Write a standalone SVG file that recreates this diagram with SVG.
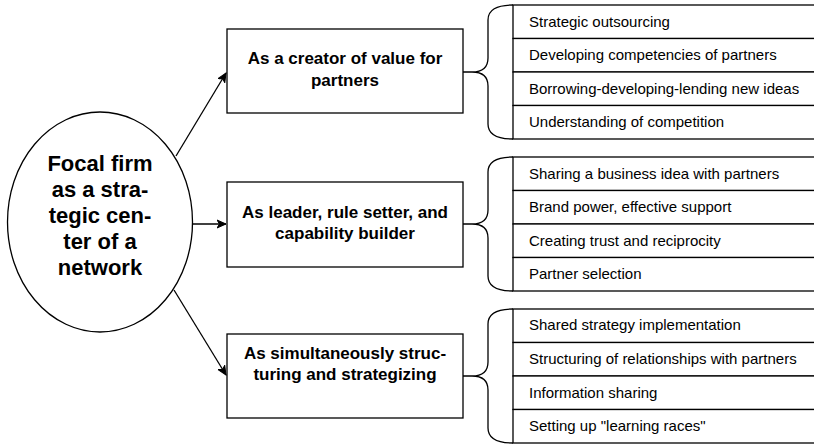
<svg xmlns="http://www.w3.org/2000/svg" width="814" height="445" viewBox="0 0 814 445">
<defs>
<style>
.sh{fill:#fff;stroke:#000;stroke-width:1.3}
.ln{fill:none;stroke:#000;stroke-width:1.3}
.big{font-family:"Liberation Sans",Arial,sans-serif;font-weight:bold;font-size:22px;text-anchor:middle;fill:#000}
.mid{font-family:"Liberation Sans",Arial,sans-serif;font-weight:bold;font-size:17px;text-anchor:middle;fill:#000}
.sm{font-family:"Liberation Sans",Arial,sans-serif;font-size:15px;fill:#000}
</style>
<marker id="ah" markerWidth="10" markerHeight="10" refX="9" refY="5" orient="auto" markerUnits="userSpaceOnUse">
<path d="M0,1 L9,5 L0,9 L2.5,5 Z" fill="#000" stroke="#000" stroke-width="1"/>
</marker>
</defs>
<rect width="814" height="445" fill="#fff"/>
<g id="connectors">
<line class="ln" x1="176" y1="156" x2="226" y2="73" marker-end="url(#ah)"/>
<line class="ln" x1="192" y1="224" x2="226" y2="224" marker-end="url(#ah)"/>
<line class="ln" x1="174" y1="290" x2="226" y2="375" marker-end="url(#ah)"/>
<path class="ln" d="M463 72 L472 72 Q488 72 488 58 L488 20 Q488 5 513 5 M472 72 Q488 72 488 86 L488 124 Q488 139 513 139"/>
<path class="ln" d="M463 224 L472 224 Q488 224 488 210 L488 172 Q488 157 513 157 M472 224 Q488 224 488 238 L488 276 Q488 291 513 291"/>
<path class="ln" d="M463 376 L472 376 Q488 376 488 362 L488 324 Q488 309 513 309 M472 376 Q488 376 488 390 L488 428 Q488 443 513 443"/>
</g>
<g id="focal">
<ellipse class="sh" cx="100" cy="222" rx="92.5" ry="110"/>
<text class="big" x="100" y="171">Focal firm</text>
<text class="big" x="100" y="197">as a stra-</text>
<text class="big" x="100" y="223">tegic cen-</text>
<text class="big" x="100" y="249">ter of a</text>
<text class="big" x="100" y="275">network</text>
</g>
<g id="role1">
<rect class="sh" x="227" y="29" width="236" height="84"/>
<text class="mid" x="345" y="64">As a creator of value for</text>
<text class="mid" x="345" y="86">partners</text>
</g>
<g id="role2">
<rect class="sh" x="227" y="182" width="236" height="85"/>
<text class="mid" x="345" y="218">As leader, rule setter, and</text>
<text class="mid" x="345" y="239">capability builder</text>
</g>
<g id="role3">
<rect class="sh" x="227" y="334" width="236" height="84"/>
<text class="mid" x="345" y="359">As simultaneously struc-</text>
<text class="mid" x="345" y="380">turing and strategizing</text>
</g>
<g id="list1">
<rect class="sh" x="513" y="5" width="320" height="33.5"/>
<rect class="sh" x="513" y="38.5" width="320" height="33.5"/>
<rect class="sh" x="513" y="72" width="320" height="33.5"/>
<rect class="sh" x="513" y="105.5" width="320" height="33.5"/>
<text class="sm" x="529" y="27">Strategic outsourcing</text>
<text class="sm" x="529" y="60">Developing competencies of partners</text>
<text class="sm" x="529" y="94">Borrowing-developing-lending new ideas</text>
<text class="sm" x="529" y="127">Understanding of competition</text>
</g>
<g id="list2">
<rect class="sh" x="513" y="157" width="320" height="33.5"/>
<rect class="sh" x="513" y="190.5" width="320" height="33.5"/>
<rect class="sh" x="513" y="224" width="320" height="33.5"/>
<rect class="sh" x="513" y="257.5" width="320" height="33.5"/>
<text class="sm" x="529" y="179">Sharing a business idea with partners</text>
<text class="sm" x="529" y="212">Brand power, effective support</text>
<text class="sm" x="529" y="246">Creating trust and reciprocity</text>
<text class="sm" x="529" y="279">Partner selection</text>
</g>
<g id="list3">
<rect class="sh" x="513" y="309" width="320" height="33.5"/>
<rect class="sh" x="513" y="342.5" width="320" height="33.5"/>
<rect class="sh" x="513" y="376" width="320" height="33.5"/>
<rect class="sh" x="513" y="409.5" width="320" height="33.5"/>
<text class="sm" x="529" y="330">Shared strategy implementation</text>
<text class="sm" x="529" y="364">Structuring of relationships with partners</text>
<text class="sm" x="529" y="398">Information sharing</text>
<text class="sm" x="529" y="431">Setting up "learning races"</text>
</g>
</svg>
